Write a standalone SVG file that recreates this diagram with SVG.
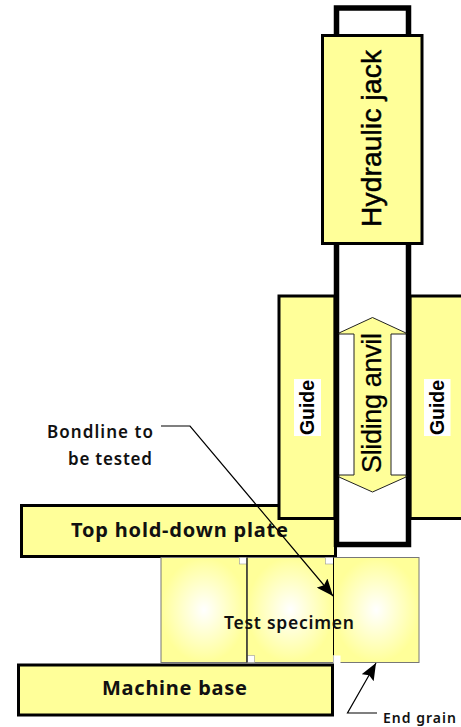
<svg xmlns="http://www.w3.org/2000/svg" width="461" height="727" viewBox="0 0 461 727">
<defs>
<style>
.box{fill:#ffff99;stroke:#000;stroke-width:3}
.t{font-family:"Liberation Sans",Arial,sans-serif;fill:#000}
.h{font-family:"Noto Sans","DejaVu Sans",sans-serif;font-weight:700;fill:#111}
.m{font-family:"Noto Sans","DejaVu Sans",sans-serif;font-weight:600;fill:#111}
.c{fill:none;stroke:#000;stroke-width:1.2}
.spec{fill:url(#g);stroke:#777;stroke-width:1}
.n{fill:#fff;stroke:#999;stroke-width:.6}
</style>
<radialGradient id="g" cx="50%" cy="50%" r="50%"><stop offset="0" stop-color="#ffffff"/><stop offset="1" stop-color="#ffff99"/></radialGradient>
<marker id="a" markerUnits="userSpaceOnUse" markerWidth="18" markerHeight="14" refX="17" refY="7" orient="auto"><path d="M0,0L17,7L0,14L3,7Z" fill="#000"/></marker>
</defs>
<rect width="461" height="727" fill="#fff"/>
<g id="top-plate"><rect class="box" x="21.500" y="505.500" width="314" height="51"/><text class="h" x="71" y="537" font-size="20" textLength="217">Top hold-down plate</text></g>
<g id="guide-left"><rect class="box" x="279" y="296" width="56" height="222.500"/><rect x="294" y="379" width="27" height="57" fill="#fff"/><text class="t" font-size="19.500" font-weight="700" transform="translate(314,435) rotate(-90)" textLength="55">Guide</text></g>
<g id="guide-right"><rect class="box" x="410" y="296" width="56" height="222.500"/><rect x="424" y="379" width="26.500" height="57" fill="#fff"/><text class="t" font-size="19.500" font-weight="700" transform="translate(443.500,435) rotate(-90)" textLength="55">Guide</text></g>
<g id="jack-cylinder"><path d="M336.500,547V8H408.500V544.500H336.500" fill="#fff" stroke="#000" stroke-width="5.500"/></g>
<g id="sliding-anvil"><path d="M339,333L372.500,317.500L406,333V334H391V475H406V477L372.500,492L339,477V475H354V334H339Z" fill="#ffff99" stroke="#222" stroke-width="1"/><text class="t" font-size="27" stroke="#000" stroke-width=".25" transform="translate(381,473) rotate(-90)" textLength="140">Sliding anvil</text></g>
<g id="hydraulic-jack"><rect class="box" x="322.500" y="35.500" width="99.500" height="208"/><text class="t" font-size="28" stroke="#000" stroke-width=".5" transform="translate(381,227) rotate(-90)" textLength="177">Hydraulic jack</text></g>
<g id="specimen-1"><rect class="spec" x="161" y="557.500" width="86" height="105"/><rect class="n" x="239.500" y="557.500" width="7.500" height="6.500"/></g>
<g id="specimen-2"><rect class="spec" x="247" y="557.500" width="86.500" height="105"/><rect class="n" x="325.500" y="557.500" width="8" height="6.500"/><rect class="n" x="247.500" y="655.500" width="7" height="7"/></g>
<g id="specimen-3"><rect class="spec" x="333.500" y="557.500" width="85.500" height="105"/><rect x="333.500" y="655.500" width="7" height="7.500" fill="#fff"/></g>
<path d="M247,557.500V662.500M333.500,557.500V655" stroke="#000" stroke-width="1" fill="none"/>
<text class="m" x="224" y="629" font-size="17.500" textLength="130">Test specimen</text>
<g id="machine-base"><rect class="box" x="18.500" y="665" width="314" height="50"/><text class="h" x="102" y="695" font-size="20" textLength="145">Machine base</text></g>
<g id="connectors"><path class="c" d="M161,426H190L333,596" marker-end="url(#a)"/><path class="c" d="M377,713H347.500L376,663" marker-end="url(#a)"/></g>
<g id="labels"><text class="m" x="47" y="438" font-size="17" textLength="106">Bondline to</text><text class="m" x="68" y="465" font-size="17" textLength="84">be tested</text><text class="m" x="383" y="723" font-size="14" textLength="73">End grain</text></g>
</svg>
